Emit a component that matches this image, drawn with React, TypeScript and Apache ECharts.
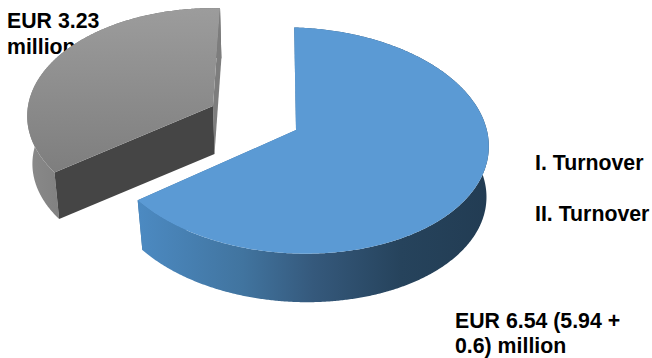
import React, { useEffect, useRef } from "react";
import * as echarts from "echarts";

// Turnover split in EUR million
const seriesNames = ["I. Turnover", "II. Turnover"];
const turnover = [6.54, 3.23];
const sliceLabels = ["EUR 6.54 (5.94 +\n0.6) million", "EUR 3.23\nmillion"];

const FONT = '"Liberation Sans", Arial, sans-serif';
const total = turnover[0] + turnover[1];

type Slice = {
  apex: [number, number];
  rx: number;
  ry: number;
  depth: number;
  tilt: number;
  from: number;
  to: number;
  wall: any;
  top: any;
  fromCut: string;
  toCut: string;
  cutsInFront: boolean;
};

// Oblique view of the disc: data angle to on-screen parametric angle
const VIEW_SKEW = 11;
const PERSPECTIVE = 0.0933;
const DEPTH_DX = 1.5;
const DEPTH_SCALE = 0.98;

const project = (s: Slice, deg: number, lower: boolean): number[] => {
  const rad = (deg * Math.PI) / 180;
  const warped = rad + ((VIEW_SKEW * Math.PI) / 180) * Math.sin(rad);
  const u = Math.sin(warped);
  const v = -Math.cos(warped);
  const w = 1 - PERSPECTIVE * v;
  const k = lower ? DEPTH_SCALE : 1;
  const dx = (k * s.rx * u) / w;
  return [
    s.apex[0] + (lower ? DEPTH_DX : 0) + dx,
    s.apex[1] + (lower ? s.depth : 0) + (k * s.ry * v) / w + s.tilt * dx,
  ];
};

const arc = (s: Slice, a: number, b: number, lower: boolean) => {
  const pts: number[][] = [];
  const n = Math.ceil(Math.abs(b - a) * 2);
  for (let i = 0; i <= n; i++) pts.push(project(s, a + ((b - a) * i) / n, lower));
  return pts;
};

const sliceShapes = (s: Slice) => {
  const lowerApex = [s.apex[0] + DEPTH_DX, s.apex[1] + s.depth];
  const poly = (points: number[][], fill: any) => ({
    type: "polygon",
    shape: { points },
    style: { fill },
    silent: true,
  });
  const wall = poly(
    [...arc(s, s.from, s.to, false), ...arc(s, s.to, s.from, true)],
    s.wall,
  );
  const cuts = [
    poly([s.apex, project(s, s.to, false), project(s, s.to, true), lowerApex], s.toCut),
    poly([s.apex, project(s, s.from, false), project(s, s.from, true), lowerApex], s.fromCut),
  ];
  const face = poly([s.apex, ...arc(s, s.from, s.to, false)], s.top);
  return s.cutsInFront ? [wall, ...cuts, face] : [...cuts, wall, face];
};

const grad = (x2: number, y2: number, stops: [number, string][]) =>
  new echarts.graphic.LinearGradient(
    0,
    0,
    x2,
    y2,
    stops.map(([offset, color]) => ({ offset, color })),
  );

const blueSweep = (turnover[0] / total) * 360;

const blueSlice: Slice = {
  apex: [296, 130],
  rx: 192,
  ry: 112,
  depth: 51,
  tilt: 0.03,
  from: -0.5,
  to: blueSweep - 0.5,
  top: "#5b9ad4",
  fromCut: "#3c6f9e",
  toCut: "#3c6f9e",
  cutsInFront: false,
  wall: grad(1, 0, [
    [0, "#4c8ac2"],
    [0.3, "#41749f"],
    [0.5, "#35597c"],
    [0.75, "#26435c"],
    [1, "#223c53"],
  ]),
};

const greySlice: Slice = {
  apex: [213, 106],
  rx: 185,
  ry: 107,
  depth: 48,
  tilt: 0,
  from: blueSweep + 3,
  to: 362,
  top: grad(0, 1, [
    [0, "#9c9c9c"],
    [1, "#7e7e7e"],
  ]),
  fromCut: "#454545",
  toCut: "#7d7d7d",
  cutsInFront: true,
  wall: grad(1, 0, [
    [0, "#8a8a8a"],
    [0.5, "#6f6f6f"],
    [1, "#5c5c5c"],
  ]),
};

const customSeries = (name: string, value: number, slice: Slice) => ({
  name,
  type: "custom",
  coordinateSystem: "none",
  data: [value],
  itemStyle: { color: "transparent" },
  renderItem: () => ({ type: "group", children: sliceShapes(slice) }),
});

export default function App() {
  const ref = useRef<HTMLDivElement>(null);
  useEffect(() => {
    const chart = echarts.init(ref.current!, undefined, { renderer: "svg" });
    const labelStyle = {
      font: `bold 21.3px ${FONT}`,
      fill: "#000",
    };
    chart.setOption({
      animation: false,
      backgroundColor: "#fff",
      legend: {
        left: 535,
        top: 150,
        orient: "vertical",
        itemWidth: 0,
        itemHeight: 0,
        itemGap: 25,
        padding: 0,
        selectedMode: false,
        data: seriesNames.map((name) => ({ name, icon: "rect" })),
        textStyle: {
          fontFamily: FONT,
          fontWeight: "bold",
          fontSize: 21.3,
          color: "#000",
          padding: [0, 0, 0, -5],
          lineHeight: 26,
        },
      },
      graphic: [
        {
          type: "text",
          z: 0,
          x: 7,
          y: 8,
          style: { ...labelStyle, lineHeight: 26, text: sliceLabels[1] },
        },
        {
          type: "text",
          z: 0,
          x: 455,
          y: 308,
          style: { ...labelStyle, lineHeight: 25, text: sliceLabels[0] },
        },
      ],
      series: [
        customSeries(seriesNames[1], turnover[1], greySlice),
        customSeries(seriesNames[0], turnover[0], blueSlice),
      ],
    });
    return () => chart.dispose();
  }, []);
  return (
    <div
      ref={ref}
      style={{ position: "fixed", left: 0, top: 0, width: 652, height: 358 }}
    />
  );
}
